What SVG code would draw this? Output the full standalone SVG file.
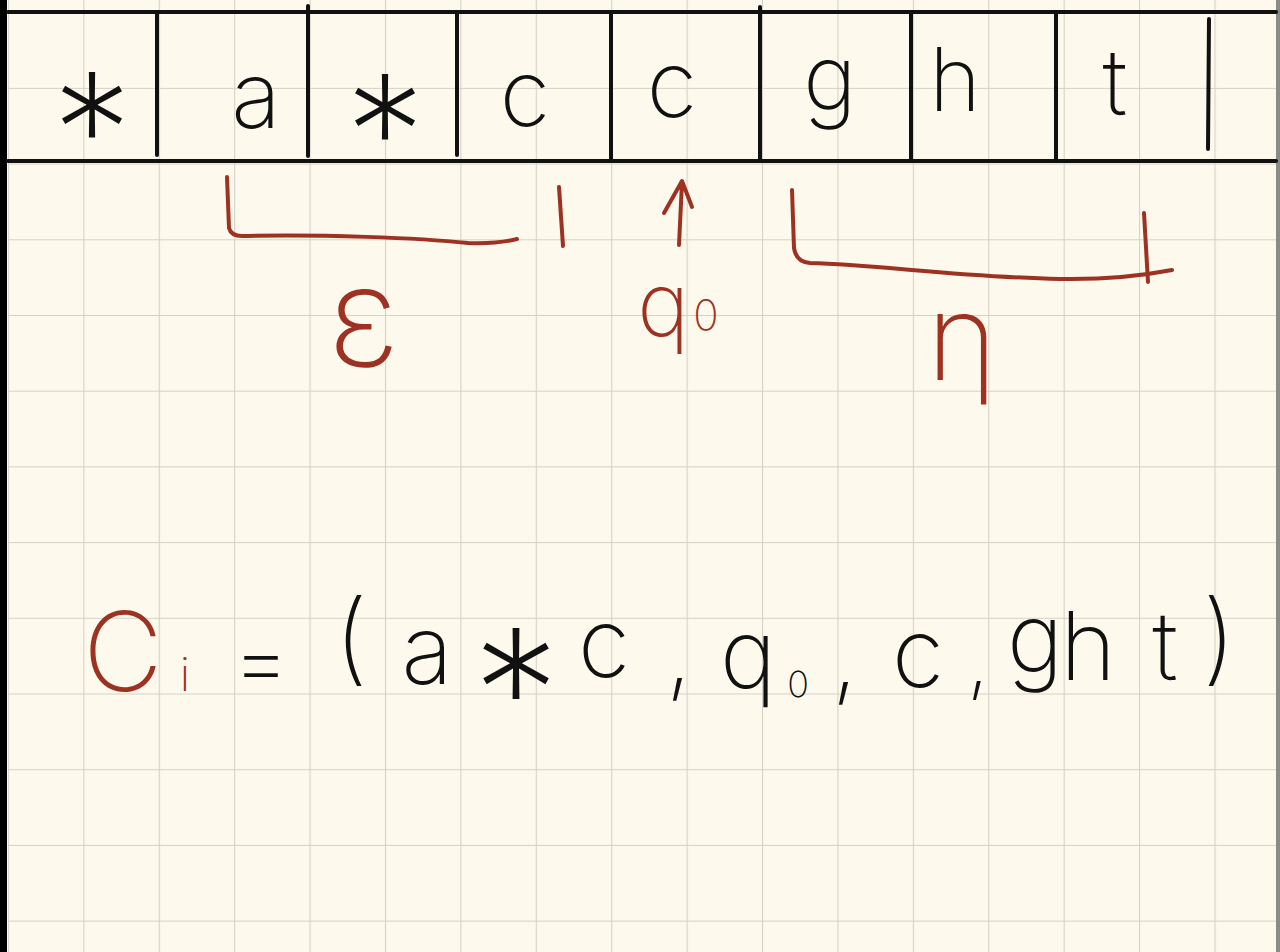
<svg xmlns="http://www.w3.org/2000/svg" width="1280" height="952" viewBox="0 0 1280 952">
<style>
.grid{stroke:#d5d1c5;stroke-width:2.2;fill:none}
.tape{stroke:#111;stroke-width:4;fill:none;stroke-linecap:round}
.red{stroke:#9e3222;stroke-width:4;fill:none;stroke-linecap:round;stroke-linejoin:round}
.t{font-family:Inter,"Liberation Sans",sans-serif;font-weight:250;fill:#111;text-anchor:middle}
.big{font-weight:200}
.r{fill:#9e3222}
</style>
<defs>
<pattern id="gp" x="7.9" y="12.2" width="75.41" height="75.7" patternUnits="userSpaceOnUse">
<path d="M0,0 V75.7 M0,0 H75.41" class="grid"/>
</pattern>
</defs>
<rect width="1280" height="952" fill="#fdf9ec"/>
<rect x="8" y="0" width="1268" height="952" fill="url(#gp)"/>
<rect x="0" y="0" width="7" height="952" fill="#000"/>
<rect x="1276" y="0" width="4" height="952" fill="#8a8a86"/>

<g id="tape">
<line class="tape" x1="8" y1="12" x2="1276" y2="12"/>
<line class="tape" x1="8" y1="161" x2="1276" y2="161"/>
<line class="tape" x1="157" y1="12" x2="157" y2="155"/>
<line class="tape" x1="308" y1="6" x2="308" y2="156"/>
<line class="tape" x1="457" y1="12" x2="457" y2="155"/>
<line class="tape" x1="611" y1="12" x2="611" y2="161"/>
<line class="tape" x1="760" y1="7" x2="760" y2="161"/>
<line class="tape" x1="911" y1="12" x2="911" y2="161"/>
<line class="tape" x1="1056" y1="12" x2="1056" y2="161"/>
<line class="tape" x1="1209" y1="19" x2="1208" y2="149"/>
</g>
<g id="cell1"><text class="t big" x="92" y="188" font-size="160">*</text></g>
<g id="cell2"><text class="t" x="256" y="128" font-size="92">a</text></g>
<g id="cell3"><text class="t big" x="385" y="190" font-size="160">*</text></g>
<g id="cell4"><text class="t" x="525" y="126" font-size="92">c</text></g>
<g id="cell5"><text class="t" x="672" y="117" font-size="92">c</text></g>
<g id="cell6"><text class="t" x="830" y="110" font-size="90">g</text></g>
<g id="cell7"><text class="t" x="955" y="111" font-size="88">h</text></g>
<g id="cell8"><text class="t" x="1115" y="115" font-size="92">t</text></g>

<g id="connectors">
<path class="red" d="M227,177 L229,228 Q231,236 242,236 C320,234 420,238 468,243 Q498,244 517,239"/>
<path class="red" d="M559,187 L563,246"/>
<path class="red" d="M679,245 L682,182 M664,213 L682,181 L692,207"/>
<path class="red" d="M792,190 L794,248 Q796,262 810,263 C880,265 960,277 1060,279 Q1120,280 1172,270"/>
<path class="red" d="M1144,213 L1148,282"/>
</g>

<g id="label-epsilon"><text class="t r big" x="364" y="366" font-size="140">ε</text></g>
<g id="label-q0"><text class="t r" x="678" y="336" font-size="88">q<tspan font-size="42" dx="4" dy="-6">0</tspan></text></g>
<g id="label-eta"><text class="t r big" x="962" y="380" font-size="120">η</text></g>

<g id="formula">
<text class="t r" x="123" y="691" font-size="110">C</text>
<text class="t r" x="185" y="691" font-size="46">i</text>
<text class="t" x="261" y="692" font-size="90">=</text>
<text class="t" x="351" y="672" font-size="100">(</text>
<text class="t" x="427" y="684" font-size="95">a</text>
<text class="t big" x="516" y="755" font-size="175">*</text>
<text class="t" x="604" y="677" font-size="95">c</text>
<text class="t" x="679" y="686" font-size="95">,</text>
<text class="t" x="748" y="688" font-size="95">q</text>
<text class="t" x="798" y="697" font-size="36">0</text>
<text class="t" x="845" y="690" font-size="95">,</text>
<text class="t" x="918" y="687" font-size="95">c</text>
<text class="t" x="978" y="688" font-size="80">,</text>
<text class="t" x="1035" y="672" font-size="95">g</text>
<text class="t" x="1088" y="680" font-size="95">h</text>
<text class="t" x="1165" y="680" font-size="95">t</text>
<text class="t" x="1219" y="672" font-size="100">)</text>
</g>
</svg>
